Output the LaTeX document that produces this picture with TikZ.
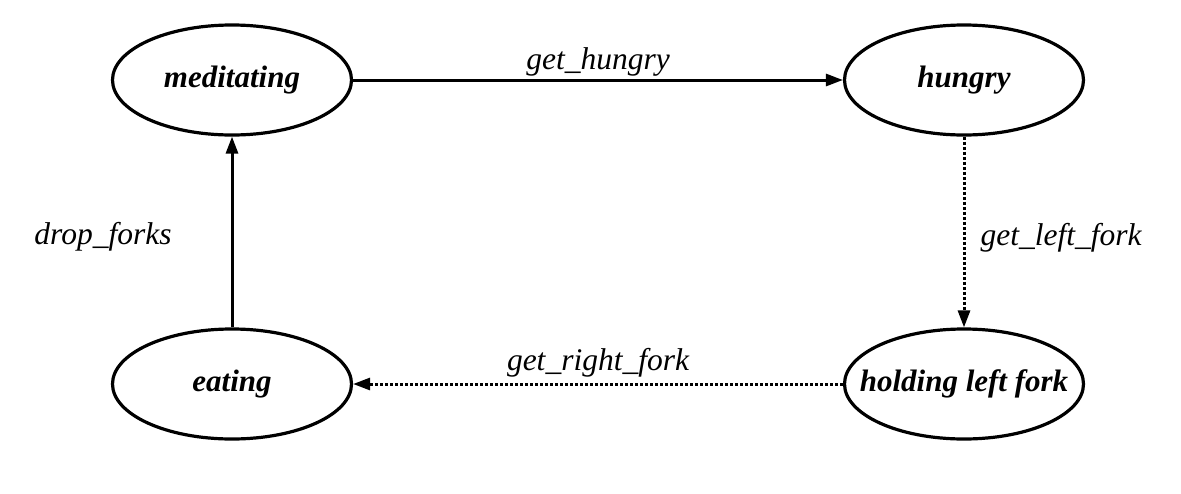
\documentclass[tikz,border=0pt]{standalone}
\usepackage{fontspec}
\setmainfont{Liberation Serif}
\usetikzlibrary{shapes.geometric,arrows.meta}
\begin{document}
\begin{tikzpicture}[x=1pt,y=-1pt,
  state/.style={draw, ellipse, line width=3.2pt, minimum width=239pt, minimum height=110pt, inner sep=0pt,
    font=\fontsize{31}{36}\selectfont\bfseries\itshape},
  lbl/.style={font=\fontsize{31.5}{36}\selectfont\itshape, inner sep=0pt},
  conn/.style={line width=3pt, -{Triangle[length=17pt,width=12pt]}},
  dots/.style={dash pattern=on 3pt off 2pt}]
\useasboundingbox (0,0) rectangle (1181,493);
\node[state] (med) at (232,80) {\makebox[0pt]{meditating}};
\node[state] (hun) at (964,80) {\makebox[0pt]{hungry}};
\node[state] (eat) at (232,384) {\makebox[0pt]{eating}};
\node[state] (hol) at (964,384) {\makebox[0pt]{holding left fork}};
\draw[conn] (med) -- node[lbl, yshift=18pt] (l1) {get\_hungry} (hun);
\draw[conn, dots] (hun) -- node[lbl, xshift=97pt, yshift=-6pt] (l2) {get\_left\_fork} (hol);
\draw[conn, dots] (hol) -- node[lbl, yshift=21pt] (l3) {get\_right\_fork} (eat);
\draw[conn] (eat) -- node[lbl, xshift=-129pt, yshift=-5pt] (l4) {drop\_forks} (med);
\end{tikzpicture}
\end{document}
